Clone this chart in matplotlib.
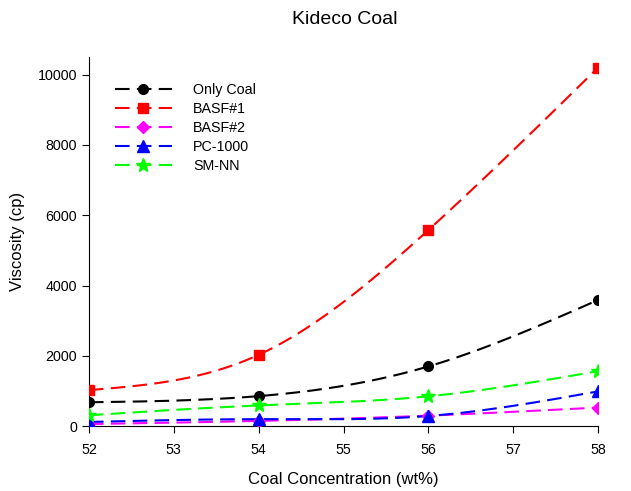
import numpy as np
from matplotlib import pyplot as plt

plt.rcParams['font.family'] = ['Liberation Sans', 'DejaVu Sans']

conc = [52, 54, 56, 58]
only_coal = [680, 855, 1700, 3590]
basf1 = [1025, 2030, 5580, 10200]
basf2 = [60, 150, 300, 530]
pc1000 = [120, 200, 290, 990]
sm_nn = [310, 590, 850, 1565]

series = [
    ('Only Coal', only_coal, 'black', 'o', 7),
    ('BASF#1', basf1, 'red', 's', 6.8),
    ('BASF#2', basf2, 'magenta', 'D', 6.3),
    ('PC-1000', pc1000, 'blue', '^', 8),
    ('SM-NN', sm_nn, 'lime', '*', 10),
]


# natural cubic spline, only used to draw the smooth connecting curve
def smooth(x, y, n=200):
    x = np.asarray(x, float)
    y = np.asarray(y, float)
    k = len(x)
    h = np.diff(x)
    A = np.zeros((k, k))
    b = np.zeros(k)
    A[0, 0] = A[-1, -1] = 1
    for i in range(1, k - 1):
        A[i, i - 1] = h[i - 1]
        A[i, i] = 2 * (h[i - 1] + h[i])
        A[i, i + 1] = h[i]
        b[i] = 3 * ((y[i + 1] - y[i]) / h[i] - (y[i] - y[i - 1]) / h[i - 1])
    c = np.linalg.solve(A, b)
    xs = np.linspace(x[0], x[-1], n)
    ys = np.empty_like(xs)
    for j, xv in enumerate(xs):
        i = min(np.searchsorted(x, xv, side='right') - 1, k - 2)
        d = xv - x[i]
        bi = (y[i + 1] - y[i]) / h[i] - h[i] * (2 * c[i] + c[i + 1]) / 3
        di = (c[i + 1] - c[i]) / (3 * h[i])
        ys[j] = y[i] + bi * d + c[i] * d ** 2 + di * d ** 3
    return xs, ys


fig = plt.figure(figsize=(6.31, 4.91), dpi=100)
ax = fig.add_axes([0.141, 0.132, 0.807, 0.752])

for name, vals, col, mk, ms in series:
    xs, ys = smooth(conc, vals)
    ax.plot(xs, ys, color=col, lw=1.5, dashes=(7, 3.5), zorder=2)
    ax.plot(conc, vals, linestyle='none', marker=mk, color=col, markersize=ms, zorder=3)
    ax.plot([], [], color=col, lw=1.5, dashes=(7, 3.5), marker=mk, markersize=ms, label=name)

ax.set_xlim(52, 58)
ax.set_ylim(0, 10500)
ax.set_xticks([52, 53, 54, 55, 56, 57, 58])
ax.set_yticks([0, 2000, 4000, 6000, 8000, 10000])
ax.tick_params(labelsize=10.3, direction='out', length=5)
ax.tick_params(axis='x', pad=7)
for s in ['top', 'right']:
    ax.spines[s].set_visible(False)

ax.set_xlabel('Coal Concentration (wt%)', fontsize=12, labelpad=11)
ax.set_ylabel('Viscosity (cp)', fontsize=12, labelpad=9)
fig.suptitle('Kideco Coal', fontsize=14, x=0.547, y=0.978)

ax.legend(loc='upper left', bbox_to_anchor=(0.025, 0.965), frameon=False, fontsize=10.3,
          handlelength=4, handletextpad=1.5, labelspacing=0.35)

plt.savefig('out.png', dpi=100)
